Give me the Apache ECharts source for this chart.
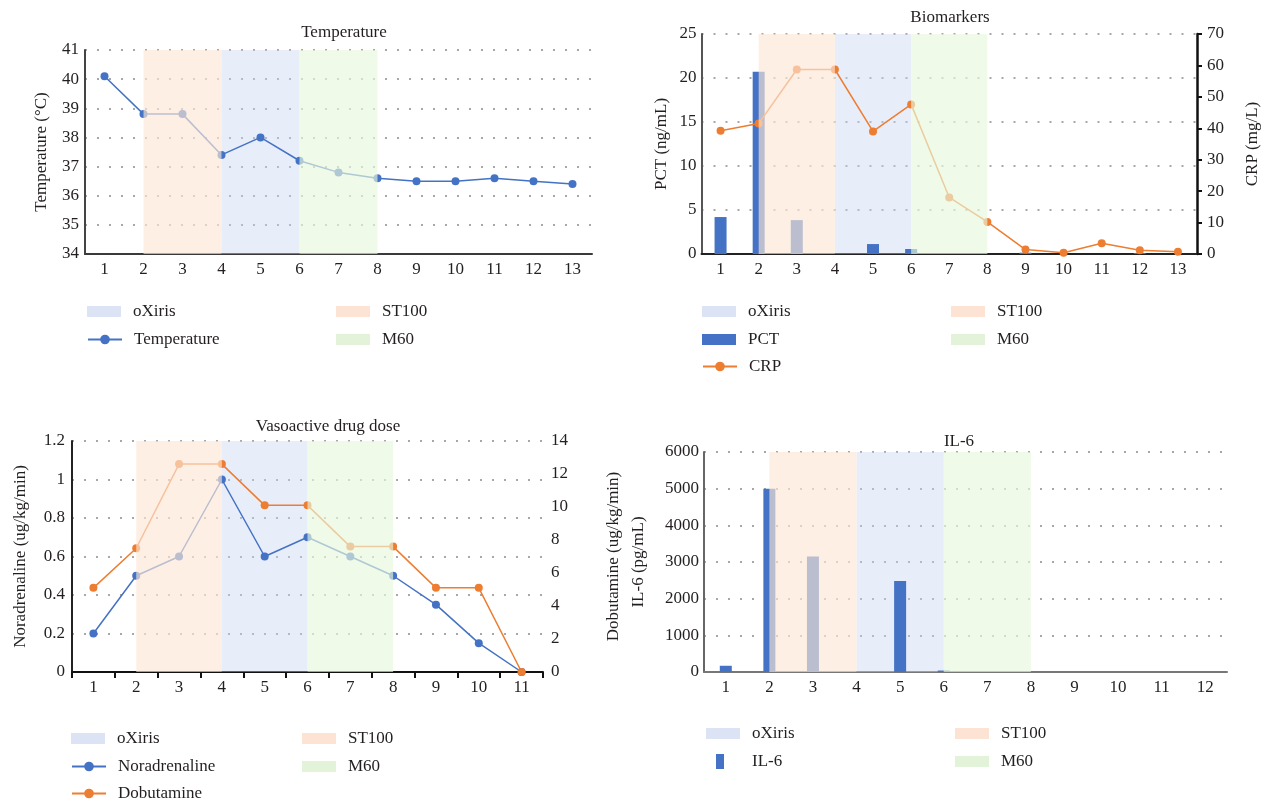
<!DOCTYPE html>
<html>
<head>
<meta charset="utf-8">
<script src="https://cdn.jsdelivr.net/npm/echarts@6/dist/echarts.min.js"></script>
<style>html,body{margin:0;background:#fff}#chart{width:1262px;height:799px}</style>
</head>
<body>
<div id="chart"></div>
<script>
/* Four-panel patient course: temperature, biomarkers, vasoactive dose, IL-6.
   Treatment windows are drawn as markAreas on a hidden value x-axis so they
   run from one day's centre to another's. */
const FONT = '"Liberation Serif", "DejaVu Serif", serif';
const BLUE = "#4472c4", ORANGE = "#ed7d31";

// ---- data ----
const days13 = ["1", "2", "3", "4", "5", "6", "7", "8", "9", "10", "11", "12", "13"];
const temperature = [40.1, 38.8, 38.8, 37.4, 38.0, 37.2, 36.8, 36.6, 36.5, 36.5, 36.6, 36.5, 36.4];
const pct = [4.2, 20.7, 3.85, 0, 1.13, 0.57, 0, 0, 0.15, 0, 0, 0.1, 0];
const crp = [39.2, 41.5, 58.7, 58.7, 39.0, 47.6, 18.0, 10.2, 1.4, 0.4, 3.4, 1.2, 0.7];
const days11 = ["1", "2", "3", "4", "5", "6", "7", "8", "9", "10", "11"];
const noradrenaline = [0.2, 0.5, 0.6, 1.0, 0.6, 0.7, 0.6, 0.5, 0.35, 0.15, 0];
const dobutamine = [5.1, 7.5, 12.6, 12.6, 10.1, 10.1, 7.6, 7.6, 5.1, 5.1, 0];
const days12 = ["1", "2", "3", "4", "5", "6", "7", "8", "9", "10", "11", "12"];
const il6 = [170, 5000, 3150, 0, 2480, 40, 0, 0, 0, 0, 0, 0];

// treatment windows (day ranges)
const bandNames = ["oXiris", "ST100", "M60"];
const bandFrom = [4, 2, 6];
const bandTo = [6, 4, 8];
const bandFill = ["rgba(200,212,243,0.42)", "rgba(252,230,213,0.65)", "rgba(232,247,220,0.65)"];
const bandSwatch = ["#dce3f5", "#fde3d3", "#e3f3d9"];
const bandZ = [1, 6, 6]; // oXiris sits under the data, the others wash over it

const txt = { fontFamily: FONT, fontSize: 17, color: "#231f20" };

const grids = [
  { left: 85, top: 50, width: 507, height: 204 },
  { left: 701.5, top: 34, width: 498, height: 220 },
  { left: 72, top: 441, width: 471, height: 231 },
  { left: 704, top: 452, width: 523, height: 220 },
];
const cats = [days13, days13, days11, days12];
const leftY = [0, 1, 3, 5];
const axisCol = ["#3a3a3a", "#222", "#111", "#777"];

const xAxis = [];
cats.forEach((c, g) => {
  xAxis.push({
    type: "category", gridIndex: g, data: c,
    axisLine: { lineStyle: { color: axisCol[g], width: 2 } },
    axisTick: { show: g === 2, length: 6, lineStyle: { color: "#111", width: 2 } },
    axisLabel: Object.assign({ margin: 7 }, txt),
  });
  xAxis.push({ type: "value", gridIndex: g, show: false, min: 0.5, max: c.length + 0.5 });
});

const dotted = { show: true, lineStyle: { color: "#8a8a8a", width: 1.5, type: [2, 10] } };
const yLeft = (g, min, max, interval, name, gap, col, margin) => ({
  type: "value", gridIndex: g, min, max, interval, name, nameLocation: "middle", nameGap: gap,
  nameRotate: 90, nameTextStyle: txt,
  axisLine: { show: true, lineStyle: { color: col, width: 2 } }, axisTick: { show: false },
  axisLabel: Object.assign({ margin, formatter: (v) => String(v) }, txt), splitLine: dotted,
});
const yAxis = [
  yLeft(0, 34, 41, 1, "Temperature (°C)", 35, "#444", 6),
  yLeft(1, 0, 25, 5, "PCT (ng/mL)", 31, "#555", 5),
  {
    type: "value", gridIndex: 1, position: "right", min: 0, max: 70, interval: 10,
    name: "CRP (mg/L)", nameLocation: "middle", nameGap: 47, nameRotate: 90, nameTextStyle: txt,
    axisLine: { show: true, lineStyle: { color: "#111", width: 2.5 } },
    axisTick: { show: true, length: 5, lineStyle: { color: "#111", width: 2 } },
    axisLabel: Object.assign({ margin: 10 }, txt), splitLine: { show: false },
  },
  yLeft(2, 0, 1.2, 0.2, "Noradrenaline (ug/kg/min)", 43, "#222", 7),
  {
    type: "value", gridIndex: 2, position: "right", min: 0, max: 14, interval: 2,
    name: "Dobutamine (ug/kg/min)", nameLocation: "middle", nameGap: 62, nameRotate: 90, nameTextStyle: txt,
    axisLine: { show: false }, axisTick: { show: false },
    axisLabel: Object.assign({ margin: 8 }, txt), splitLine: { show: false },
  },
  yLeft(3, 0, 6000, 1000, "IL-6 (pg/mL)", 57, "#666", 5),
];

const line = (name, data, color, xi, yi) => ({
  type: "line", name, data, xAxisIndex: xi, yAxisIndex: yi, z: 2,
  symbol: "circle", symbolSize: 8, color,
  lineStyle: { color, width: 1.5 }, itemStyle: { color },
});
const bar = (name, data, xi, yi) => ({
  type: "bar", name, data, xAxisIndex: xi, yAxisIndex: yi, z: 2, barWidth: 12,
  color: BLUE, itemStyle: { color: BLUE },
});

const series = [
  line("Temperature", temperature, BLUE, 0, 0),
  bar("PCT", pct, 2, 1),
  line("CRP", crp, ORANGE, 2, 2),
  line("Noradrenaline", noradrenaline, BLUE, 4, 3),
  line("Dobutamine", dobutamine, ORANGE, 4, 4),
  bar("IL-6", il6, 6, 5),
];
// treatment window bands, one empty series per band per panel
grids.forEach((_, g) => {
  bandNames.forEach((n, b) => {
    series.push({
      type: "line", name: n, data: [], xAxisIndex: 2 * g + 1, yAxisIndex: leftY[g], z: bandZ[b],
      color: bandSwatch[b], itemStyle: { color: bandSwatch[b] },
      markArea: {
        silent: true, z: bandZ[b], itemStyle: { color: bandFill[b] },
        data: [[{ xAxis: bandFrom[b] }, { xAxis: bandTo[b] }]],
      },
    });
  });
});

// legends: one per entry so each can sit exactly where the reference has it
const legend = [];
const leg = (name, x, y, opt) => legend.push(Object.assign({
  left: x, top: y - 8, padding: 0, selectedMode: false, itemWidth: 34, itemHeight: 11,
  textStyle: Object.assign({ padding: [0, 0, 0, 7] }, txt),
  data: [name],
}, opt || {}));
const swatch = (b) => ({ name: bandNames[b], icon: "rect", itemStyle: { color: bandSwatch[b] } });
const legendCols = [[87, 336, 311, 339], [702, 951, 311, 339], [71, 302, 738, 766], [706, 955, 733, 761]];
legendCols.forEach(([x1, x2, r1, r2], g) => {
  leg(swatch(0), x1, r1);
  leg(swatch(1), x2, r1);
  leg(swatch(2), x2, r2);
});
leg("Temperature", 87, 339, { itemHeight: 12 });
leg({ name: "PCT", icon: "rect" }, 702, 339);
leg("CRP", 702, 366, { itemHeight: 12 });
leg("Noradrenaline", 71, 766, { itemHeight: 12 });
leg("Dobutamine", 71, 793, { itemHeight: 12 });
leg({ name: "IL-6", icon: "rect" }, 716, 761, {
  itemWidth: 8, itemHeight: 15,
  textStyle: Object.assign({ padding: [0, 0, 0, 23] }, txt),
});

const titles = [["Temperature", 344, 24], ["Biomarkers", 950, 9], ["Vasoactive drug dose", 328, 418], ["IL-6", 959, 433]];

echarts.init(document.getElementById("chart")).setOption({
  animation: false,
  backgroundColor: "#fff",
  title: titles.map(([t, x, y]) => ({
    text: t, left: x, top: y, textAlign: "center", padding: 0,
    textStyle: Object.assign({}, txt, { fontWeight: "normal" }),
  })),
  grid: grids,
  xAxis, yAxis, legend, series,
});
</script>
</body>
</html>
